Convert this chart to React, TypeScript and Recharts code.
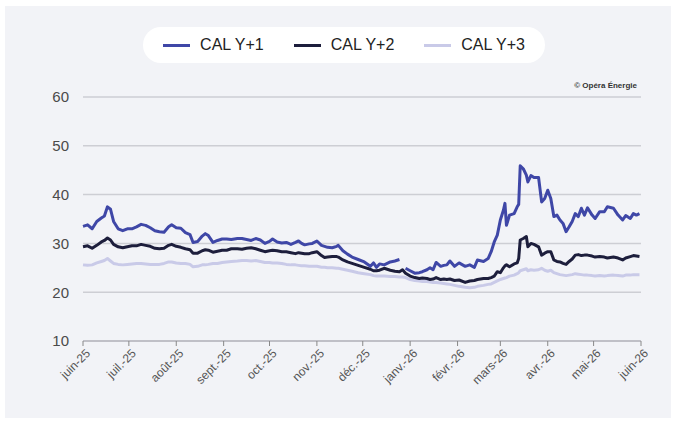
import { LineChart, Line, XAxis, YAxis, CartesianGrid, Legend } from 'recharts';

const START = Date.UTC(2025, 5, 1);
const DAY = 86400000;

// days counted from 1 June 2025
const dayOffsets = [
  0, 3, 6, 9, 12, 14, 16, 18, 20, 23, 26, 29, 32, 35, 38, 41, 44, 47, 50, 53, 56, 58, 61, 64, 67, 70,
  72, 75, 78, 80, 82, 85, 88, 91, 94, 97, 101, 104, 107, 110, 113, 116, 119, 122, 124, 127, 130, 133,
  136, 139, 141, 143, 145, 148, 150, 153, 156, 158, 160, 163, 166, 167, 170, 173, 176, 180, 184, 188,
  190, 192, 194, 197, 201, 204, 207, 209, 211, 214, 217, 220, 222, 225, 227, 229, 231, 234, 236, 238,
  240, 243, 246, 250, 253, 256, 258, 262, 265, 267, 269, 271, 273, 275, 276, 277, 279, 282, 284, 285,
  286, 288, 290, 291, 293, 295, 298, 300, 302, 304, 306, 308, 310, 312, 314, 316, 318, 320, 322, 324,
  326, 328, 330, 333, 335, 338, 341, 343, 347, 350, 353, 355, 358, 360, 362, 364,
];

const calY1 = [
  33.5, 33.8, 33.0, 34.5, 35.2, 35.6, 37.5, 37.0, 34.5, 33.0, 32.6, 33.0, 33.0, 33.4, 33.9, 33.7, 33.2, 32.6, 32.4, 32.3, 33.4, 33.8, 33.2, 33.1, 32.2, 31.8,
  30.2, 30.4, 31.5, 32.0, 31.6, 30.2, 30.6, 30.9, 30.9, 30.8, 31.0, 31.0, 30.8, 30.6, 31.0, 30.7, 30.0, 30.4, 30.9, 30.3, 30.1, 30.2,
  29.8, 30.2, 30.5, 30.0, 29.7, 29.9, 30.0, 30.5, 29.6, 29.4, 29.2, 29.1, 29.4, 29.6, 28.5, 27.8, 27.2, 26.7, 26.2, 25.3,
  26.0, 25.1, 25.8, 25.6, 26.2, 26.4, 26.7, null, 24.9, 24.4, 23.9, 24.0, 24.2, 24.6, 25.0, 24.6, 26.1, 25.3, 25.5, 25.6,
  26.4, 25.3, 26.0, 25.3, 25.6, 25.1, 26.6, 26.3, 26.9, 28.3, 30.3, 31.7, 34.8, 36.8, 38.2, 33.7, 35.8, 36.1, 37.5, 38.0,
  45.9, 45.3, 44.0, 42.6, 43.9, 43.5, 43.5, 38.5, 39.2, 40.9, 39.2, 35.5, 35.8, 34.8, 34.1, 32.4, 33.4, 34.5, 36.1, 35.5,
  37.2, 35.8, 37.3, 35.8, 35.1, 36.5, 36.5, 37.5, 37.2, 35.8, 34.8, 35.7, 35.1, 36.1, 35.8, 36.1,
];

const calY2 = [
  29.3, 29.5, 29.0, 29.6, 30.3, 30.6, 31.1, 30.7, 29.8, 29.3, 29.1, 29.3, 29.5, 29.5, 29.8, 29.6, 29.4, 29.0, 28.9, 29.0, 29.6, 29.8, 29.4, 29.2, 28.9, 28.7,
  28.0, 28.0, 28.5, 28.7, 28.6, 28.2, 28.4, 28.6, 28.6, 28.9, 28.9, 28.8, 29.0, 29.1, 28.9, 28.6, 28.3, 28.5, 28.6, 28.5, 28.3, 28.3,
  28.1, 27.9, 28.1, 28.0, 27.9, 27.9, 28.1, 28.3, 27.5, 27.1, 27.2, 27.3, 27.3, 27.2, 26.6, 26.2, 25.9, 25.5, 25.1, 24.7,
  24.4, 24.4, 24.5, 24.9, 24.5, 24.3, 24.2, 24.6, 23.9, 23.3, 23.0, 22.8, 22.9, 22.8, 22.6, 22.7, 23.0, 22.6, 22.7, 22.6,
  22.7, 22.4, 22.5, 22.0, 22.3, 22.4, 22.6, 22.8, 22.8, 23.0, 23.3, 24.2, 24.0, 25.0, 25.4, 25.6, 25.2, 25.8, 26.0, 26.9,
  30.7, 31.0, 31.4, 29.3, 30.0, 29.8, 29.3, 27.6, 28.0, 28.3, 28.3, 26.6, 26.3, 26.2, 25.9, 25.7, 26.3, 26.8, 27.6, 27.7,
  27.5, 27.6, 27.6, 27.4, 27.2, 27.3, 27.2, 27.0, 27.2, 27.0, 26.6, 27.0, 27.3, 27.5, 27.4, 27.3,
];

const calY3 = [
  25.6, 25.5, 25.6, 26.0, 26.3, 26.5, 26.9, 26.4, 25.9, 25.7, 25.6, 25.7, 25.8, 25.9, 25.9, 25.8, 25.7, 25.7, 25.7, 25.9, 26.2, 26.2, 26.0, 25.9, 25.9, 25.7,
  25.2, 25.3, 25.6, 25.6, 25.7, 25.9, 25.9, 26.1, 26.2, 26.3, 26.4, 26.5, 26.5, 26.4, 26.5, 26.3, 26.1, 26.1, 26.0, 26.0, 25.9, 25.7,
  25.6, 25.6, 25.5, 25.4, 25.4, 25.3, 25.3, 25.3, 25.1, 25.1, 25.0, 25.0, 24.9, 24.9, 24.7, 24.5, 24.3, 24.0, 23.8, 23.6,
  23.4, 23.3, 23.3, 23.3, 23.2, 23.2, 23.1, 23.1, 23.0, 22.6, 22.4, 22.3, 22.2, 22.2, 22.1, 22.0, 22.0, 21.9, 21.8, 21.7,
  21.6, 21.4, 21.2, 21.0, 20.9, 21.0, 21.2, 21.4, 21.6, 21.7, 22.0, 22.3, 22.6, 22.8, 22.9, 23.0, 23.3, 23.5, 23.8, 24.0,
  24.4, 24.6, 24.8, 24.4, 24.6, 24.5, 24.6, 24.9, 24.5, 24.3, 24.5, 24.0, 23.8, 23.6, 23.5, 23.4, 23.5, 23.6, 23.8, 23.7,
  23.6, 23.5, 23.5, 23.4, 23.3, 23.4, 23.3, 23.4, 23.5, 23.4, 23.3, 23.5, 23.5, 23.6, 23.6, 23.6,
];

const monthLabels = [
  'juin-25', 'juil.-25', 'août-25', 'sept.-25', 'oct.-25', 'nov.-25', 'déc.-25',
  'janv.-26', 'févr.-26', 'mars-26', 'avr.-26', 'mai-26', 'juin-26',
];
const yTicks = [10, 20, 30, 40, 50, 60];

const series = [
  { key: 'y1', name: 'CAL Y+1', color: '#3f47a7' },
  { key: 'y2', name: 'CAL Y+2', color: '#1d1e3c' },
  { key: 'y3', name: 'CAL Y+3', color: '#c9cae8' },
];

const data = dayOffsets.map((d, i) => ({
  t: START + d * DAY,
  y1: calY1[i],
  y2: calY2[i],
  y3: calY3[i],
}));

const monthTicks = monthLabels.map((_, i) => Date.UTC(2025, 5 + i, 1));

const font = '"Liberation Sans", Arial, sans-serif';

const MonthTick = ({ x, y, index }: any) => (
  <g transform={`translate(${x + 5},${y + 3})`}>
    <text transform="rotate(-45)" textAnchor="end" dy="0.35em" fill="#555" fontSize={12} fontFamily={font}>
      {monthLabels[index]}
    </text>
  </g>
);

const LegendPill = () => (
  <div
    style={{
      width: 402,
      height: 36,
      background: '#fff',
      borderRadius: 18,
      display: 'flex',
      alignItems: 'center',
      justifyContent: 'center',
      gap: 30,
      fontFamily: font,
      fontSize: 16,
      color: '#222',
    }}
  >
    {series.map((s) => (
      <div key={s.key} style={{ display: 'flex', alignItems: 'center' }}>
        <span style={{ display: 'inline-block', width: 27, height: 3, background: s.color, marginRight: 10 }} />
        <span>{s.name}</span>
      </div>
    ))}
  </div>
);

export default function App() {
  return (
    <div style={{ position: 'absolute', left: 0, top: 0, width: 676, height: 422, background: '#fff' }}>
      <div style={{ position: 'absolute', left: 5, top: 6, width: 666, height: 412, background: '#f2f3f7' }} />
      <div style={{ position: 'absolute', left: 0, top: 0 }}>
        <LineChart width={676} height={422} data={data} margin={{ top: 97, right: 35, bottom: 0, left: 0 }}>
          <CartesianGrid vertical={false} stroke="#cdced4" strokeWidth={1.5} />
          <XAxis
            dataKey="t"
            type="number"
            domain={[monthTicks[0], monthTicks[monthTicks.length - 1]]}
            ticks={monthTicks}
            interval={0}
            tick={<MonthTick />}
            tickSize={5}
            tickLine={{ stroke: '#888' }}
            axisLine={{ stroke: '#b8b9bf', strokeWidth: 1.5 }}
            height={81}
          />
          <YAxis
            domain={[10, 60]}
            ticks={yTicks}
            width={83}
            axisLine={false}
            tickLine={false}
            tickMargin={8}
            tick={{ fill: '#4a4a4a', fontSize: 15, fontFamily: font }}
          />
          <Legend
            layout="horizontal"
            verticalAlign="middle"
            align="center"
            content={<LegendPill />}
            wrapperStyle={{ top: 27, left: 143, width: 402, height: 36 }}
          />
          {series
            .slice()
            .reverse()
            .map((s) => (
              <Line
                key={s.key}
                dataKey={s.key}
                name={s.name}
                stroke={s.color}
                strokeWidth={3}
                dot={false}
                strokeLinejoin="round"
                connectNulls={false}
                isAnimationActive={false}
              />
            ))}
        </LineChart>
      </div>
      <div
        style={{
          position: 'absolute',
          right: 39,
          top: 81,
          fontFamily: font,
          fontSize: 8,
          fontWeight: 700,
          color: '#333',
        }}
      >
        © Opéra Énergie
      </div>
    </div>
  );
}
